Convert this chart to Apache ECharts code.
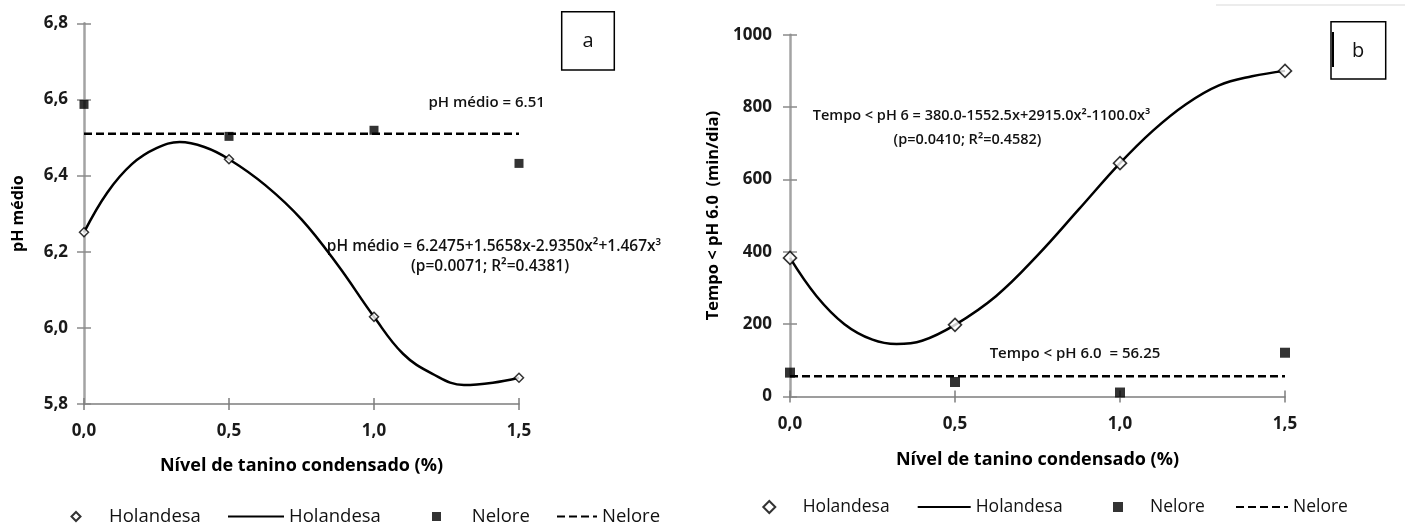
<!DOCTYPE html>
<html lang="pt">
<head>
    <meta charset="UTF-8">
    <title>pH médio e Tempo &lt; pH 6.0</title>
    <script src="https://cdn.jsdelivr.net/npm/echarts@6/dist/echarts.min.js"></script>
</head>
<style>
    body{
        margin: 0;
        background-color: #fff;
    }
    #picture{
        width: 1405px;
        height: 526px;
        display: flex;
        flex-direction: row;
    }
    .pic1{
        width: 690px;
        height: 526px;
    }
    .pic2{
        width: 715px;
        height: 526px;
    }
</style>
<body>
    <div id="picture">
        <div class="canvas pic1"></div>
        <div class="canvas pic2"></div>
    </div>
    <script>
        // nivel de tanino (%)
        var niveis=[0,0.5,1.0,1.5];

        // grafico a - pH medio
        var phHolandesa=[6.251,6.443,6.029,5.869];
        var phNelore=[6.587,6.503,6.519,6.432];
        var phMedia=6.51;
        // curva ajustada
        var phCurvaX=[0,0.08,0.165,0.25,0.33,0.415,0.5,0.625,0.75,0.875,1.0,1.1,1.2,1.31,1.41,1.5];
        var phCurvaY=[6.251,6.355,6.43,6.472,6.488,6.475,6.443,6.375,6.285,6.165,6.029,5.932,5.880,5.850,5.856,5.869];

        // grafico b - tempo < pH 6.0 (min/dia)
        var tempoHolandesa=[383,198,645,900];
        var tempoNelore=[66,40,11,121];
        var tempoMedia=56.25;
        var tempoCurvaX=[0,0.08,0.165,0.25,0.323,0.4,0.5,0.625,0.75,0.875,1.0,1.1,1.2,1.3,1.4,1.5];
        var tempoCurvaY=[383,278,200,157,145,154,198,278,390,517,645,735,808,860,885,900];

        var fonte='"Open Sans", "DejaVu Sans", sans-serif';

        function pares(xs,ys){
            var res=[];
            for(var i=0;i<xs.length;i++) res.push([xs[i],ys[i]]);
            return res;
        }
        function virgula(v,casas){
            return v.toFixed(casas).replace('.',',');
        }

        function eixoX(tickInside){
            return {
                type:'value',
                position:'bottom',
                min:0,max:1.5,interval:0.5,
                axisLine:{show:!tickInside,lineStyle:{color:'#7d7d7d',width:1.5}},
                axisTick:{show:true,inside:tickInside,length:6,lineStyle:{color:'#7d7d7d',width:1.5}},
                axisLabel:{show:!tickInside,margin:19,color:'#1a1a1a',fontFamily:fonte,fontSize:17,fontWeight:'bold',
                    formatter:function(v){return virgula(v,1)}},
                splitLine:{show:false}
            }
        }
        function eixoY(tickInside,min,max,step,fmt,margin){
            return {
                type:'value',
                position:'left',
                min:min,max:max,interval:step,
                axisLine:{show:!tickInside,lineStyle:{color:'#a3a3a3',width:2.5}},
                axisTick:{show:true,inside:tickInside,length:7,lineStyle:{color:'#8a8a8a',width:1.5}},
                axisLabel:{show:!tickInside,margin:margin,color:'#1a1a1a',fontFamily:fonte,fontSize:17,fontWeight:'bold',formatter:fmt},
                splitLine:{show:false}
            }
        }
        function legenda(nome,texto,left,top,w,h,pad,size,linha){
            var l={
                data:[nome],
                left:left,top:top,padding:0,
                itemWidth:w,itemHeight:h,
                selectedMode:false,
                formatter:texto,
                textStyle:{color:'#111',fontFamily:fonte,fontSize:size,fontWeight:500,padding:[0,0,0,pad]}
            };
            if(linha) l.itemStyle={opacity:0};
            return l;
        }
        function texto(x,y,str,size){
            return {
                type:'text',x:x,y:y,
                style:{text:str,fill:'#111',font:'600 '+size+'px '+fonte,align:'center',verticalAlign:'middle'}
            }
        }

        var pic=document.querySelectorAll(".canvas");

        var pic_a=echarts.init(pic[0]);
        pic_a.setOption({
            animation:false,
            grid:{left:84,top:23.3,width:435,height:380.7},
            xAxis:[eixoX(false),eixoX(true)],
            yAxis:[
                eixoY(false,5.8,6.8,0.2,function(v){return virgula(v,1)},16),
                eixoY(true,5.8,6.8,0.2,null,16)
            ],
            legend:[
                legenda('Holandesa','Holandesa',70.5,507,9,9,23.5,18.5,false),
                legenda('Holandesa ajuste','Holandesa',227,507,56,10,0,18.5,true),
                legenda('Nelore','Nelore',432,507,9,9,25.7,18.5,false),
                legenda('Nelore media','Nelore',556,507,40,10,0,18.5,true)
            ],
            series:[
                {
                    name:'Nelore media',
                    type:'line',
                    data:[[0,phMedia],[1.5,phMedia]],
                    symbol:'none',
                    itemStyle:{color:'#000'},
                    lineStyle:{color:'#000',width:2.5,type:[8,4]},
                    z:2
                },
                {
                    name:'Holandesa ajuste',
                    type:'line',
                    data:pares(phCurvaX,phCurvaY),
                    smooth:0.4,
                    symbol:'none',
                    itemStyle:{color:'#000'},
                    lineStyle:{color:'#000',width:2.5},
                    z:3
                },
                {
                    name:'Nelore',
                    type:'scatter',
                    data:pares(niveis,phNelore),
                    symbol:'rect',
                    symbolSize:9,
                    itemStyle:{color:'#000'},
                    z:4
                },
                {
                    name:'Holandesa',
                    type:'scatter',
                    data:pares(niveis,phHolandesa),
                    symbol:'diamond',
                    symbolSize:9,
                    itemStyle:{color:'#fff',borderColor:'#000',borderWidth:1.5},
                    z:5
                }
            ],
            graphic:[
                texto(486.7,103,'pH médio = 6.51',15),
                texto(494,246.7,'pH médio = 6.2475+1.5658x-2.9350x²+1.467x³',15.5),
                texto(490,266.7,'(p=0.0071; R²=0.4381)',15.5),
                {
                    type:'rect',
                    shape:{x:561.7,y:11.7,width:52.6,height:58.3},
                    style:{fill:'#fff',stroke:'#000',lineWidth:1.5}
                },
                {
                    type:'text',x:588,y:41,
                    style:{text:'a',fill:'#111',font:'20px '+fonte,align:'center',verticalAlign:'middle'}
                }
            ]
        });
        pic_a.setOption({
            yAxis:[{name:'pH médio',nameLocation:'middle',nameGap:58,
                nameTextStyle:{color:'#000',fontFamily:fonte,fontSize:16,fontWeight:'bold'}}],
            xAxis:[{name:'Nível de tanino condensado (%)',nameLocation:'middle',nameGap:53,
                nameTextStyle:{color:'#000',fontFamily:fonte,fontSize:18,fontWeight:'bold'}}]
        });

        var pic_b=echarts.init(pic[1]);
        pic_b.setOption({
            animation:false,
            grid:{left:100,top:34.7,width:495,height:361.8},
            xAxis:[eixoX(false),eixoX(true)],
            yAxis:[
                eixoY(false,0,1000,200,function(v){return String(v)},18),
                eixoY(true,0,1000,200,null,18)
            ],
            legend:[
                legenda('Holandesa','Holandesa',72.3,498,12,12,22.4,17.5,false),
                legenda('Holandesa ajuste','Holandesa',226.7,498,53,10,0,17.5,true),
                legenda('Nelore','Nelore',423,498,10,10,22,17.5,false),
                legenda('Nelore media','Nelore',545,498,52,10,0,17.5,true)
            ],
            series:[
                {
                    name:'Nelore media',
                    type:'line',
                    data:[[0,tempoMedia],[1.5,tempoMedia]],
                    symbol:'none',
                    itemStyle:{color:'#000'},
                    lineStyle:{color:'#000',width:2.5,type:[8,4]},
                    z:2
                },
                {
                    name:'Holandesa ajuste',
                    type:'line',
                    data:pares(tempoCurvaX,tempoCurvaY),
                    smooth:0.4,
                    symbol:'none',
                    itemStyle:{color:'#000'},
                    lineStyle:{color:'#000',width:2.5},
                    z:3
                },
                {
                    name:'Nelore',
                    type:'scatter',
                    data:pares(niveis,tempoNelore),
                    symbol:'rect',
                    symbolSize:10,
                    itemStyle:{color:'#000'},
                    z:4
                },
                {
                    name:'Holandesa',
                    type:'scatter',
                    data:pares(niveis,tempoHolandesa),
                    symbol:'diamond',
                    symbolSize:13,
                    itemStyle:{color:'#fff',borderColor:'#000',borderWidth:1.6},
                    z:5
                }
            ],
            graphic:[
                texto(291.5,116,'Tempo < pH 6 = 380.0-1552.5x+2915.0x²-1100.0x³',14.5),
                texto(277.5,140,'(p=0.0410; R²=0.4582)',14.5),
                texto(385,354,'Tempo < pH 6.0  = 56.25',15),
                {
                    type:'rect',
                    shape:{x:641,y:21.7,width:54.7,height:57.3},
                    style:{fill:'#fff',stroke:'#000',lineWidth:1.5}
                },
                {
                    type:'rect',
                    shape:{x:642,y:32,width:2,height:35},
                    style:{fill:'#000'}
                },
                {
                    type:'text',x:668,y:51,
                    style:{text:'b',fill:'#111',font:'20px '+fonte,align:'center',verticalAlign:'middle'}
                },
                {
                    type:'line',
                    shape:{x1:526,y1:5,x2:715,y2:5},
                    style:{stroke:'#e6e6e6',lineWidth:1.5}
                }
            ]
        });
        pic_b.setOption({
            yAxis:[{name:'Tempo < pH 6.0  (min/dia)',nameLocation:'middle',nameGap:66,
                nameTextStyle:{color:'#000',fontFamily:fonte,fontSize:16.5,fontWeight:'bold'}}],
            xAxis:[{name:'Nível de tanino condensado (%)',nameLocation:'middle',nameGap:54,
                nameTextStyle:{color:'#000',fontFamily:fonte,fontSize:18,fontWeight:'bold'}}]
        });
    </script>
</body>
</html>
